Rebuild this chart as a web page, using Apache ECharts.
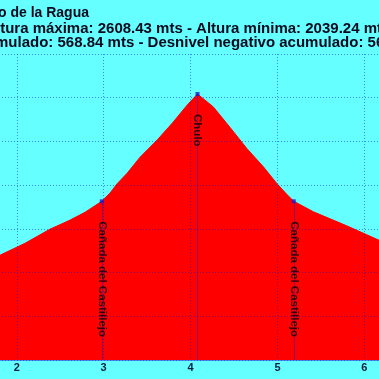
<!DOCTYPE html>
<html>
<head>
<meta charset="utf-8">
<script src="https://cdn.jsdelivr.net/npm/echarts@6/dist/echarts.min.js"></script>
<style>
html,body{margin:0;padding:0;width:379px;height:379px;overflow:hidden;background:#66ffff;}
#chart{position:absolute;left:-200px;top:0;width:1000px;height:379px;}
</style>
</head>
<body>
<div id="chart"></div>
<script>
// ---- data ----
const titleLine1 = 'Chulo desde el Puerto de la Ragua';
const titleLine2 = 'Distancia: 8.17 km - Altura máxima: 2608.43 mts - Altura mínima: 2039.24 mts';
const titleLine3 = 'Desnivel positivo acumulado: 568.84 mts - Desnivel negativo acumulado: 568.84 mts';

const distKm = [0, 0.5, 1.0, 1.5, 1.81, 2.095, 2.38, 2.613, 2.786, 2.978, 3.074, 3.154, 3.269, 3.419, 3.615, 3.799, 3.96, 4.08,
  4.262, 4.455, 4.647, 4.838, 4.992, 5.107, 5.188, 5.414, 5.797, 6.169, 6.5, 7.0, 7.5, 8.0, 8.17];
const elevM = [2039.24, 2085, 2140, 2195, 2240, 2267, 2299, 2320, 2338, 2363, 2382, 2403, 2427, 2464, 2503, 2544, 2583, 2608.43,
  2579, 2532, 2484, 2442, 2404, 2379, 2363, 2339, 2307, 2274, 2230, 2170, 2110, 2062, 2040];

const wpNames = ['Cañada del Castillejo', 'Chulo', 'Cañada del Castillejo'];
const wpKm = [2.978, 4.08, 5.188];
const wpElev = [2363, 2608.43, 2363];

const xTicks = {min: 0, max: 9, interval: 1};
const yTicks = {min: 2000, max: 2700, interval: 100};

// ---- chart ----
const chart = echarts.init(document.getElementById('chart'), null, {renderer: 'canvas'});
const cv = document.createElement('canvas').getContext('2d');
function tw(t, font){ cv.font = font; return cv.measureText(t).width; }
const F1 = 'bold 14px "Liberation Sans"';
const F2 = 'bold 15px "Liberation Sans"';
const OFF = 200; // container offset
const l1x = OFF + 89 - tw(titleLine1, F1);
const l2x = OFF - 4 - tw('Distancia: 8.17 km - A', F2);
const l3x = OFF - 5 - tw('Desnivel positivo acu', F2);

const lineData = distKm.map((d, i) => [d, elevM[i]]);
const wpData = wpKm.map((d, i) => [d, wpElev[i], wpNames[i]]);

chart.setOption({
  backgroundColor: '#66ffff',
  animation: false,
  graphic: [
    {type: 'text', x: l1x, y: 6, style: {text: titleLine1, font: F1, fill: '#0a0a1e'}},
    {type: 'text', x: l2x, y: 21, style: {text: titleLine2, font: F2, fill: '#0a0a1e'}},
    {type: 'text', x: l3x, y: 35, style: {text: titleLine3, font: F2, fill: '#0a0a1e'}}
  ],
  grid: {left: 43, top: 54, width: 782, height: 306, containLabel: false},
  xAxis: {
    type: 'value', min: xTicks.min, max: xTicks.max, interval: xTicks.interval, z: 3,
    axisLine: {show: true, lineStyle: {color: 'rgba(40,40,200,0.5)'}},
    axisTick: {show: false},
    axisLabel: {margin: 2, color: '#0a2040', fontFamily: 'Liberation Sans', fontWeight: 'bold', fontSize: 11},
    splitLine: {show: true, lineStyle: {color: 'rgba(0,0,210,0.45)', type: [1, 2], width: 1}}
  },
  yAxis: {
    type: 'value', min: yTicks.min, max: yTicks.max, interval: yTicks.interval, z: 3,
    axisLine: {show: false}, axisTick: {show: false},
    axisLabel: {color: '#0a2040', fontFamily: 'Liberation Sans', fontWeight: 'bold', fontSize: 11},
    splitLine: {show: true, lineStyle: {color: 'rgba(0,0,210,0.45)', type: [1, 2], width: 1}}
  },
  series: [
    {
      type: 'line', data: lineData, symbol: 'none', smooth: false, z: 1,
      lineStyle: {color: '#ff0000', width: 1},
      areaStyle: {color: '#ff0000', opacity: 1},
      markLine: {
        silent: true, z: 2, symbol: ['none', 'none'], label: {show: false},
        lineStyle: {color: 'rgba(30,30,200,0.5)', type: 'solid', width: 1},
        data: wpKm.map((k, i) => [{coord: [k, wpElev[i]]}, {coord: [k, yTicks.min]}])
      }
    },
    {
      type: 'scatter', data: wpData, symbol: 'rect', symbolSize: 4, z: 8,
      itemStyle: {color: '#1a1acc'},
      label: {
        show: true, position: 'bottom', distance: 17, rotate: -90,
        align: 'left', verticalAlign: 'middle', offset: [1, 0],
        formatter: p => p.data[2],
        color: '#0a0008', fontFamily: 'Liberation Sans', fontWeight: 'bold', fontSize: 11.5
      }
    }
  ]
});
</script>
</body>
</html>
